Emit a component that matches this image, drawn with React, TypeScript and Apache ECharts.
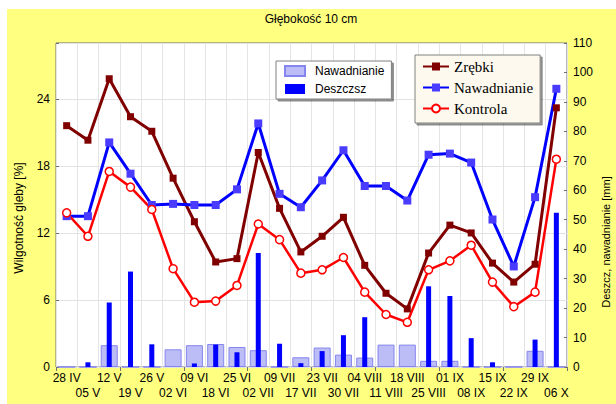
import React, { useEffect, useRef } from 'react';
import * as echarts from 'echarts';

const categories = ['28 IV', '05 V', '12 V', '19 V', '26 V', '02 VI', '09 VI', '18 VI', '25 VI', '02 VII', '09 VII', '17 VII', '23 VII', '30 VII', '04 VIII', '11 VIII', '18 VIII', '25 VIII', '01 IX', '08 IX', '15 IX', '22 IX', '29 IX', '06 X'];

const zrebki = [21.6, 20.3, 25.8, 22.4, 21.1, 16.9, 13.0, 9.4, 9.7, 19.2, 14.2, 10.3, 11.7, 13.4, 9.1, 6.6, 5.2, 10.2, 12.7, 12.0, 9.3, 7.6, 9.2, 23.2];
const nawadnianieLine = [13.5, 13.5, 20.1, 17.3, 14.5, 14.6, 14.5, 14.5, 15.9, 21.8, 15.5, 14.3, 16.7, 19.4, 16.2, 16.2, 14.9, 19.0, 19.1, 18.3, 13.2, 9.0, 15.2, 24.9];
const kontrola = [13.8, 11.7, 17.5, 16.1, 14.1, 8.8, 5.8, 5.9, 7.3, 12.8, 11.4, 8.4, 8.7, 9.8, 6.7, 4.7, 4.0, 8.7, 9.5, 10.9, 7.6, 5.4, 6.7, 18.6];

const nawadnianieBars = [0, 0, 7.4, 0, 0, 6.0, 7.4, 7.8, 6.8, 5.7, 0, 3.3, 6.6, 4.2, 3.2, 7.6, 7.6, 2.1, 2.1, 0, 0, 0, 5.5, 0];
const deszcz = [0, 1.6, 21.9, 32.4, 7.7, 0, 1.2, 7.6, 5.0, 38.7, 7.9, 1.3, 5.4, 10.8, 16.9, 0, 0, 27.4, 24.1, 9.8, 1.6, 0, 9.3, 52.4];

const SANS = '"Liberation Sans", Arial, sans-serif';
const SERIF = '"Liberation Serif", "Times New Roman", serif';

export default function App() {
  const ref = useRef<HTMLDivElement>(null);
  useEffect(() => {
    const chart = echarts.init(ref.current!, null, { renderer: 'svg' });
    chart.setOption({
      animation: false,
      backgroundColor: '#ffffff',
      textStyle: { fontFamily: SANS },
      graphic: [
        { type: 'rect', z: -100, silent: true, shape: { x: 7, y: 9, width: 609, height: 395 }, style: { fill: '#ffff80' } },
        { type: 'text', x: 311, y: 19, silent: true, style: { text: 'Głębokość 10 cm', font: '12px ' + SANS, fill: '#000', align: 'center', verticalAlign: 'middle' } },
        { type: 'text', x: 19, y: 218, rotation: Math.PI / 2, silent: true, style: { text: 'Wilgotność gleby [%]', font: '12px ' + SANS, fill: '#000', align: 'center', verticalAlign: 'middle' } },
        { type: 'text', x: 606, y: 242, rotation: Math.PI / 2, silent: true, style: { text: 'Deszcz, nawadnianie [mm]', font: '11px ' + SANS, fill: '#000', align: 'center', verticalAlign: 'middle' } },
      ],
      grid: { left: 56, right: 49, top: 43, bottom: 37, show: true, backgroundColor: '#ffffff', borderColor: '#707070', borderWidth: 1 },
      xAxis: [
        {
          type: 'category', data: categories, boundaryGap: true,
          axisLine: { show: false }, axisTick: { show: false },
          splitLine: { show: true, lineStyle: { color: '#e4e4e4', width: 1 } },
          axisLabel: { interval: 0, margin: 3, lineHeight: 15, fontSize: 12, color: '#000', fontFamily: SANS, formatter: (v: string, i: number) => (i % 2 ? '\n' + v : v) },
        },
        {
          type: 'category', data: categories, boundaryGap: true, position: 'top',
          axisLine: { show: false },
          axisTick: { show: true, inside: true, length: 4, lineStyle: { color: '#707070' } },
          axisLabel: { show: false }, splitLine: { show: false },
        },
      ],
      yAxis: [
        {
          type: 'value', min: 0, max: 29, interval: 6,
          axisLine: { show: false },
          axisTick: { show: true, inside: true, length: 3, lineStyle: { color: '#707070' } },
          splitLine: { show: true, lineStyle: { color: '#e2e2e2' } },
          axisLabel: { fontSize: 12, color: '#000', margin: 6, fontFamily: SANS, formatter: (v: number) => (v % 6 === 0 ? String(v) : '') },
        },
        {
          type: 'value', min: 0, max: 110, interval: 10, position: 'right',
          axisLine: { show: false },
          axisTick: { show: true, inside: true, length: 3, lineStyle: { color: '#707070' } },
          splitLine: { show: false },
          axisLabel: { fontSize: 12, color: '#000', margin: 6, fontFamily: SANS },
        },
      ],
      legend: [
        {
          data: [{ name: 'Nawadnianie ', icon: 'rect' }, { name: 'Deszczsz', icon: 'rect' }],
          orient: 'vertical', left: 276, top: 61, itemWidth: 20, itemHeight: 10, itemGap: 4,
          padding: [3, 7, 3, 8], backgroundColor: '#ffffff', borderColor: '#808080', borderWidth: 1,
          shadowColor: 'rgba(0,0,0,0.45)', shadowOffsetX: 2, shadowOffsetY: 2, shadowBlur: 1,
          selectedMode: false,
          formatter: (n: string) => n.trim(),
          textStyle: { fontSize: 12, color: '#000', lineHeight: 14, padding: [0, 0, 0, 5], fontFamily: SANS },
        },
        {
          data: ['Zrębki', 'Nawadnianie', 'Kontrola'],
          orient: 'vertical', left: 415, top: 55, itemWidth: 26, itemHeight: 10, itemGap: 4,
          padding: [3, 7, 6, 7], backgroundColor: '#fdf9ee', borderColor: '#808080', borderWidth: 1,
          shadowColor: 'rgba(0,0,0,0.45)', shadowOffsetX: 2, shadowOffsetY: 2, shadowBlur: 1,
          selectedMode: false,
          textStyle: { fontSize: 15, color: '#000', lineHeight: 17, fontFamily: SERIF },
        },
      ],
      series: [
        {
          name: 'Nawadnianie ', type: 'bar', xAxisIndex: 0, yAxisIndex: 1, data: nawadnianieBars, barWidth: 17,
          itemStyle: { color: '#bcbcf6', borderColor: '#8585ee', borderWidth: 1 },
        },
        {
          name: 'Deszczsz', type: 'bar', xAxisIndex: 1, yAxisIndex: 1, data: deszcz, barWidth: 5,
          itemStyle: { color: '#0000ff' },
        },
        {
          name: 'Zrębki', type: 'line', xAxisIndex: 0, yAxisIndex: 0, data: zrebki, symbol: 'rect', symbolSize: 7, showAllSymbol: true,
          lineStyle: { color: '#800000', width: 3 }, itemStyle: { color: '#800000' },
        },
        {
          name: 'Nawadnianie', type: 'line', xAxisIndex: 0, yAxisIndex: 0, data: nawadnianieLine, symbol: 'rect', symbolSize: 8, showAllSymbol: true,
          lineStyle: { color: '#0000ff', width: 3 }, itemStyle: { color: '#4a3cff' },
        },
        {
          name: 'Kontrola', type: 'line', xAxisIndex: 0, yAxisIndex: 0, data: kontrola, symbol: 'circle', symbolSize: 8, showAllSymbol: true,
          lineStyle: { color: '#ff0000', width: 2.5 }, itemStyle: { color: '#ffffff', borderColor: '#ff0000', borderWidth: 1.5 },
        },
      ],
    });
    return () => chart.dispose();
  }, []);
  return <div ref={ref} style={{ position: 'fixed', left: 0, top: 0, width: 616, height: 404 }} />;
}
